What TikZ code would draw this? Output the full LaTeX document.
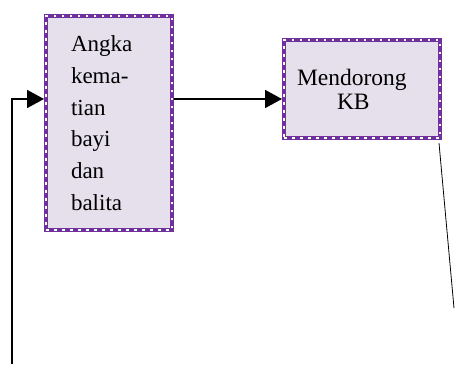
\documentclass[tikz,border=0pt]{standalone}
\usepackage{fontspec}
\setmainfont{Liberation Serif}
\usetikzlibrary{arrows.meta}
\definecolor{boxfill}{HTML}{E5E0EC}
\definecolor{boxpurple}{HTML}{7030A0}
\tikzset{
  dashbox/.style={fill=boxfill, draw=boxpurple, line width=4pt,
    postaction={draw=white, line width=1.3pt, dash pattern=on 2.5pt off 5.5pt}},
  conn/.style={draw=black, line width=1.6pt},
  arr/.style={conn, -{Triangle[length=17pt,width=18pt]}},
  thin/.style={draw=black, line width=0.8pt}
}
\begin{document}
\begin{tikzpicture}[x=1pt,y=-1pt]
\useasboundingbox (0,0) rectangle (455,364);
\node[dashbox, minimum width=126pt, minimum height=214pt, inner xsep=0pt,
  text width=76pt, align=left, font=\fontsize{23}{31.7}\selectfont]
  (b1) at (109,123) {Angka\\kema-\\tian\\bayi\\dan\\balita};
\node[dashbox, minimum width=156pt, minimum height=98pt, inner xsep=0pt,
  text width=130pt, align=left, font=\fontsize{23.5}{24}\selectfont]
  (b2) at (362,89) {Mendorong\\\hspace*{40pt}KB};
\coordinate (bot) at (12,364);
\coordinate (turn) at (12,99);
\coordinate (tail) at (454,308);
\draw[arr] (bot) -- (turn) -- (turn -| b1.west);
\draw[arr] (turn -| b1.east) -- (turn -| b2.west);
\draw[thin] ([xshift=-3pt,yshift=-3pt]b2.south east) -- (tail);
\end{tikzpicture}
\end{document}
